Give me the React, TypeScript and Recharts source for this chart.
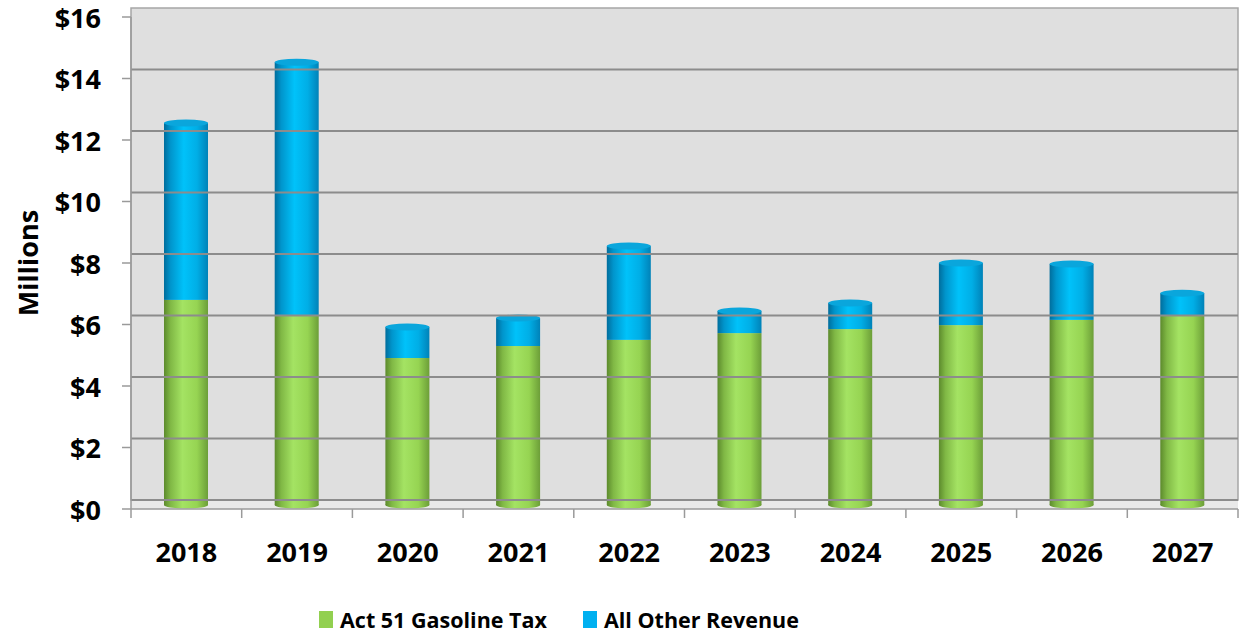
import React from 'react';
import { BarChart, Bar, XAxis, YAxis, ReferenceArea, ReferenceLine, Legend } from 'recharts';

// values in $ millions
const years = ['2018', '2019', '2020', '2021', '2022', '2023', '2024', '2025', '2026', '2027'];
const gasTax = [6.67, 6.18, 4.78, 5.17, 5.37, 5.59, 5.72, 5.85, 6.02, 6.15];
const otherRevenue = [5.75, 8.22, 1.01, 0.91, 3.05, 0.72, 0.85, 2.02, 1.82, 0.74];
const yTicks = [0, 2, 4, 6, 8, 10, 12, 14, 16];
const seriesNames = ['Act 51 Gasoline Tax', 'All Other Revenue'];

const data = years.map((year, i) => ({ year, gasTax: gasTax[i], other: otherRevenue[i] }));

const W = 1245;
const H = 634;
const FONT = '"Open Sans", sans-serif';
const Y_AXIS_W = 131;
const PLOT_W = W - Y_AXIS_W - 7;
const PLOT_H = 509 - 17;
const PX = PLOT_H / 16;
// fake 3d depth: bars sit a little behind the axis, the wall further back
const BAR_SHIFT = 4 / PX;
const BACK_SHIFT = 9 / PX;

const GREEN = '#92d050';
const BLUE = '#00b0f0';

const XTick = (props: any) => {
  const { x, y, payload, index } = props;
  const band = PLOT_W / years.length;
  return (
    <g>
      <line x1={x - band / 2} y1={y} x2={x - band / 2} y2={y + 9} stroke="#9a9a9a" strokeWidth={1.5} />
      {index === years.length - 1 && (
        <line x1={x + band / 2} y1={y} x2={x + band / 2} y2={y + 9} stroke="#9a9a9a" strokeWidth={1.5} />
      )}
      <text x={x} y={y + 42} textAnchor="middle" dominantBaseline="central"
        style={{ fontFamily: FONT, fontSize: 27, fontWeight: 700, fill: '#000' }}>
        {payload.value}
      </text>
    </g>
  );
};

const YTick = (props: any) => {
  const { x, y, payload } = props;
  return (
    <g>
      <line x1={x} y1={y} x2={x + 9} y2={y} stroke="#9a9a9a" strokeWidth={1.5} />
      <text x={x - 21} y={y} textAnchor="end" dominantBaseline="central"
        style={{ fontFamily: FONT, fontSize: 27, fontWeight: 700, fill: '#000' }}>
        {`$${payload.value}`}
      </text>
    </g>
  );
};

const cylinder = (gradId: string, cap: string | null, roundBottom: boolean) => (props: any) => {
  const { x, y, width, height } = props;
  if (!height || height <= 0) return <g />;
  const rx = width / 2;
  return (
    <g>
      {roundBottom && <ellipse cx={x + rx} cy={y + height} rx={rx} ry={3.5} fill={`url(#${gradId})`} />}
      <rect x={x} y={y} width={width} height={height} fill={`url(#${gradId})`} />
      {cap && <ellipse cx={x + rx} cy={y} rx={rx} ry={3.5} fill={cap} />}
    </g>
  );
};

const LegendContent = () => (
  <div style={{ display: 'flex', alignItems: 'center', fontFamily: FONT, fontSize: 21.5, lineHeight: 1, fontWeight: 700, color: '#000', whiteSpace: 'nowrap' }}>
    {seriesNames.map((name, i) => (
      <div key={name} style={{ display: 'flex', alignItems: 'center', marginRight: i === 0 ? 36 : 0 }}>
        <span style={{ display: 'inline-block', width: 14, height: 17, background: i === 0 ? GREEN : BLUE, marginRight: 7 }} />
        <span>{name}</span>
      </div>
    ))}
  </div>
);

export default function App() {
  return (
    <div style={{ position: 'absolute', left: 0, top: 0, width: W, height: H, background: '#fff' }}>
      <BarChart width={W} height={H} data={data} margin={{ top: 17, right: 7, left: 0, bottom: 65 }} barSize={44}>
        <defs>
          <linearGradient id="gGreen" x1="0" y1="0" x2="1" y2="0">
            <stop offset="0%" stopColor="#5c8a2c" />
            <stop offset="15%" stopColor="#80b845" />
            <stop offset="42%" stopColor="#a4e363" />
            <stop offset="75%" stopColor="#96d452" />
            <stop offset="100%" stopColor="#6c9e38" />
          </linearGradient>
          <linearGradient id="gBlue" x1="0" y1="0" x2="1" y2="0">
            <stop offset="0%" stopColor="#006d9c" />
            <stop offset="15%" stopColor="#0095cc" />
            <stop offset="45%" stopColor="#00c2fa" />
            <stop offset="75%" stopColor="#00aee6" />
            <stop offset="100%" stopColor="#0082b8" />
          </linearGradient>
        </defs>
        <XAxis dataKey="year" tickSize={0} tickMargin={0} tickLine={false} height={60}
          axisLine={{ stroke: '#9a9a9a', strokeWidth: 1.5 }} tick={<XTick />} interval={0} />
        <YAxis yAxisId="front" domain={[0, 16]} ticks={yTicks} allowDataOverflow width={Y_AXIS_W}
          tickSize={9} tickMargin={0} axisLine={{ stroke: '#9a9a9a', strokeWidth: 1.5 }} tickLine={false}
          tick={<YTick />} interval={0}
          label={({ viewBox }: any) => {
            const cy = viewBox.y + viewBox.height / 2;
            return (
              <text x={27} y={cy} transform={`rotate(-90, 27, ${cy})`} textAnchor="middle" dominantBaseline="central"
                style={{ fontFamily: FONT, fontSize: 27, fontWeight: 700, fill: '#000' }}>Millions</text>
            );
          }} />
        <YAxis yAxisId="bars" orientation="right" hide width={0} domain={[-BAR_SHIFT, 16 - BAR_SHIFT]} allowDataOverflow />
        <YAxis yAxisId="back" orientation="right" hide width={0} domain={[-BACK_SHIFT, 16 - BACK_SHIFT]} allowDataOverflow />
        <ReferenceArea yAxisId="back" y1={0} y2={16} ifOverflow="visible" fill="#dfdfdf" fillOpacity={1}
          stroke="#a6a6a6" strokeWidth={1.5} />
        <ReferenceArea yAxisId="back" y1={-BACK_SHIFT} y2={0} ifOverflow="visible" fill="#e9e9e9" fillOpacity={1} />
        {yTicks.slice(0, -1).map((t) => (
          <ReferenceLine key={t} yAxisId="back" y={t} stroke="#8c8c8c" strokeWidth={2} ifOverflow="visible" />
        ))}
        <Bar yAxisId="bars" dataKey="gasTax" stackId="a" name={seriesNames[0]} fill={GREEN}
          shape={cylinder('gGreen', null, true)} isAnimationActive={false} />
        <Bar yAxisId="bars" dataKey="other" stackId="a" name={seriesNames[1]} fill={BLUE}
          shape={cylinder('gBlue', '#0aa6dc', false)} isAnimationActive={false} />
        <Legend layout="horizontal" verticalAlign="middle" align="center" content={<LegendContent />}
          wrapperStyle={{ top: 609, left: 319, width: 'auto' }} />
      </BarChart>
    </div>
  );
}
